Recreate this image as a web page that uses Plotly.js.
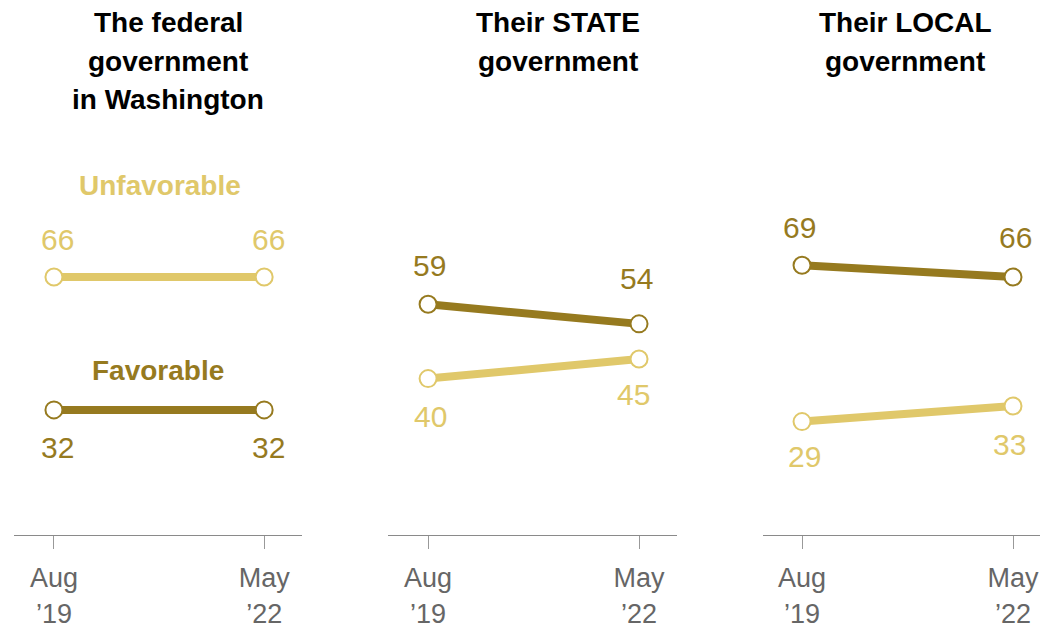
<!DOCTYPE html>
<html>
<head>
<meta charset="utf-8">
<script src="https://cdn.plot.ly/plotly-3.0.1.min.js"></script>
<style>html,body{margin:0;padding:0;background:#fff;}#chart{width:1040px;height:631px;}</style>
</head>
<body>
<div id="chart"></div>
<script>
// ---- data ----
const periods = ["Aug<br>’19", "May<br>’22"];
const panelTitles = [
  ["The federal", "government", "in Washington"],
  ["Their STATE", "government"],
  ["Their LOCAL", "government"]
];
const favorable = [[32, 32], [59, 54], [69, 66]];
const unfavorable = [[66, 66], [40, 45], [29, 33]];
const seriesNames = ["Favorable", "Unfavorable"];

// ---- style ----
const W = 1040, H = 631;
const DARK = "#967A1F", LIGHT = "#E0C86A";
const FONT = "Liberation Sans, Arial, sans-serif";
const domains = [[14 / W, 302 / W], [388 / W, 677 / W], [763 / W, 1]];
const ranges = [[-0.19, 1.18], [-0.19, 1.18], [-0.185, 1.128]];
const titleX = [168, 558, 905];
const yDomain = [(H - 535) / H, (H - 144) / H];
// label offsets in px [panel][point] -> [xshift, yshift]
const favShift = [[[4, -38], [4, -38]], [[1, 39], [-3, 45]], [[-3, 38], [2, 39]]];
const unfShift = [[[4, 37], [4, 37]], [[2, -38], [-6, -35]], [[2, -35], [-4, -39]]];

const traces = [];
const annotations = [];
const layout = {
  width: W, height: H,
  margin: {l: 0, r: 0, t: 0, b: 0},
  paper_bgcolor: "#fff", plot_bgcolor: "#fff",
  showlegend: false,
  font: {family: FONT},
  annotations: annotations
};

for (let p = 0; p < 3; p++) {
  const sfx = p === 0 ? "" : String(p + 1);
  const xa = "x" + sfx, ya = "y" + sfx;
  layout["xaxis" + sfx] = {
    domain: domains[p], range: ranges[p],
    tickvals: [0, 1], ticktext: periods,
    showgrid: false, zeroline: false,
    showline: true, linecolor: "#8a8a8a", linewidth: 1,
    ticks: "outside", ticklen: 13, tickcolor: "#999", tickwidth: 1,
    tickfont: {family: FONT, size: 27, color: "#666"},
    ticklabelstandoff: 6,
    anchor: ya, fixedrange: true
  };
  layout["yaxis" + sfx] = {
    domain: yDomain, range: [0, 100],
    visible: false, anchor: xa, fixedrange: true
  };
  const sets = [
    {vals: unfavorable[p], color: LIGHT},
    {vals: favorable[p], color: DARK}
  ];
  sets.forEach((s) => {
    traces.push({
      type: "scatter", mode: "lines+markers",
      x: [0, 1], y: s.vals, xaxis: xa, yaxis: ya,
      line: {color: s.color, width: 8},
      marker: {size: 17, color: "#fff", line: {color: s.color, width: 2}},
      cliponaxis: false, hoverinfo: "skip"
    });
  });
  for (let k = 0; k < 2; k++) {
    annotations.push({
      x: k, y: favorable[p][k], xref: xa, yref: ya, text: String(favorable[p][k]),
      showarrow: false, xanchor: "center", yanchor: "middle",
      font: {family: FONT, size: 30, color: DARK},
      xshift: favShift[p][k][0], yshift: favShift[p][k][1]
    });
    annotations.push({
      x: k, y: unfavorable[p][k], xref: xa, yref: ya, text: String(unfavorable[p][k]),
      showarrow: false, xanchor: "center", yanchor: "middle",
      font: {family: FONT, size: 30, color: LIGHT},
      xshift: unfShift[p][k][0], yshift: unfShift[p][k][1]
    });
  }
  panelTitles[p].forEach((line, j) => {
    annotations.push({
      x: titleX[p] / W, y: 1 - (22 + 39 * j) / H, xref: "paper", yref: "paper",
      xanchor: "center", yanchor: "middle", showarrow: false,
      text: "<b>" + line + "</b>",
      font: {family: FONT, size: 28, color: "#000"}
    });
  });
}

annotations.push({
  x: 160 / W, y: 1 - 185 / H, xref: "paper", yref: "paper", showarrow: false,
  xanchor: "center", yanchor: "middle",
  text: "<b>" + seriesNames[1] + "</b>", font: {family: FONT, size: 28, color: LIGHT}
});
annotations.push({
  x: 158 / W, y: 1 - 370 / H, xref: "paper", yref: "paper", showarrow: false,
  xanchor: "center", yanchor: "middle",
  text: "<b>" + seriesNames[0] + "</b>", font: {family: FONT, size: 28, color: DARK}
});

Plotly.newPlot("chart", traces, layout, {displayModeBar: false, staticPlot: true});
</script>
</body>
</html>
